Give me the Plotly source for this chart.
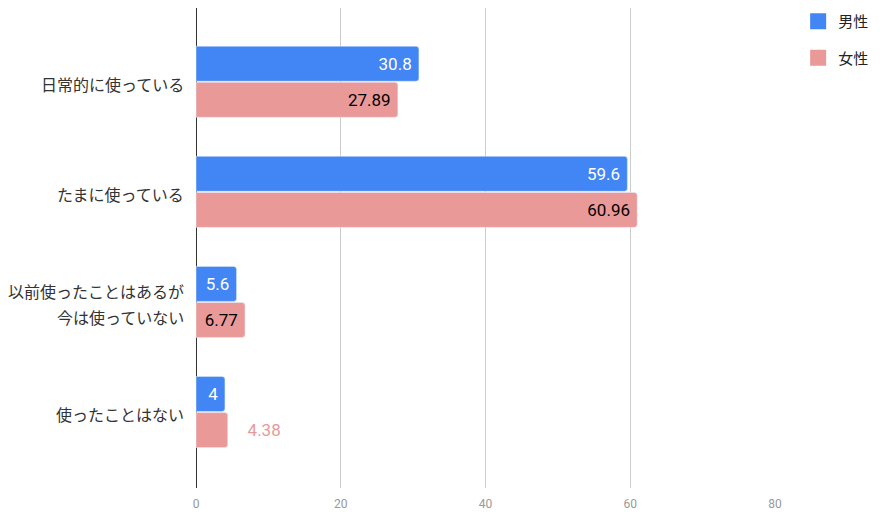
import plotly.graph_objects as go

categories = ["日常的に使っている", "たまに使っている", "以前使ったことはあるが<br>今は使っていない", "使ったことはない"]
male = [30.8, 59.6, 5.6, 4]
female = [27.89, 60.96, 6.77, 4.38]
x_ticks = [0, 20, 40, 60, 80]

BLUE = "#4285F4"
PINK = "#EA9999"
FONT = "Noto Sans CJK JP"
NUM = "Roboto"
NB = "\u00a0"

female_pos = ["inside", "inside", "inside", "outside"]

fig = go.Figure()
fig.add_trace(go.Bar(
    y=categories, x=male, name="男性", orientation="h", showlegend=False,
    marker=dict(color=BLUE, cornerradius=3),
    text=[f"{v}{NB}" for v in male], textposition="inside", insidetextanchor="end",
    insidetextfont=dict(color="white", size=17, family=NUM),
    outsidetextfont=dict(color=BLUE, size=17, family=NUM),
    textangle=0, cliponaxis=False,
))
fig.add_trace(go.Bar(
    y=categories, x=female, name="女性", orientation="h", showlegend=False,
    marker=dict(color=PINK, cornerradius=3),
    text=[(f"{v}{NB}" if p == "inside" else f"{NB*4}{v}") for v, p in zip(female, female_pos)],
    textposition=female_pos, insidetextanchor="end",
    insidetextfont=dict(color="black", size=17, family=NUM),
    outsidetextfont=dict(color=PINK, size=17, family=NUM),
    textangle=0, cliponaxis=False,
))
# legend entries with larger square swatches
for nm, col in [("男性", BLUE), ("女性", PINK)]:
    fig.add_trace(go.Scatter(
        x=[None], y=[None], mode="markers", name=nm, legendgroup=nm,
        marker=dict(symbol="square", size=16, color=col),
    ))

# category labels drawn as annotations (one per line) to get wider line spacing
annotations = []
for cat in categories:
    lines = cat.split("<br>")
    n = len(lines)
    for i, line in enumerate(lines):
        annotations.append(dict(
            x=0, xref="paper", xanchor="right", xshift=-10,
            y=cat, yref="y", yanchor="middle",
            yshift=((n - 1) / 2 - i) * 26 - 2,
            text=line, showarrow=False,
            font=dict(color="#333333", size=16, family=FONT),
        ))

W, H = 872, 511
fig.update_layout(
    width=W, height=H,
    margin=dict(l=188, r=W - 767, t=0, b=H - 480, autoexpand=False),
    barmode="group", bargap=0.345, bargroupgap=0.03,
    plot_bgcolor="white", paper_bgcolor="white",
    font=dict(family=FONT, color="#222222", size=15),
    showlegend=True,
    legend=dict(x=1.04, xanchor="left", y=1.006, yanchor="top",
                font=dict(size=15, color="#222222", family=FONT),
                traceorder="grouped", itemwidth=30, tracegroupgap=14,
                bgcolor="rgba(0,0,0,0)"),
    annotations=annotations,
)
fig.update_xaxes(
    range=[0, 80], tickvals=x_ticks, showgrid=True, gridcolor="#cccccc", gridwidth=1,
    zeroline=True, zerolinecolor="#333333", zerolinewidth=1, automargin=False,
    tickfont=dict(color="#999999", size=12, family=NUM), ticks="", showline=False,
    ticklabelstandoff=7,
)
fig.update_yaxes(
    range=[3.69, -0.67], autorange=False, showgrid=False, zeroline=False,
    ticks="", automargin=False, showticklabels=False,
)

fig.write_html("out.html", config={"displayModeBar": False})
